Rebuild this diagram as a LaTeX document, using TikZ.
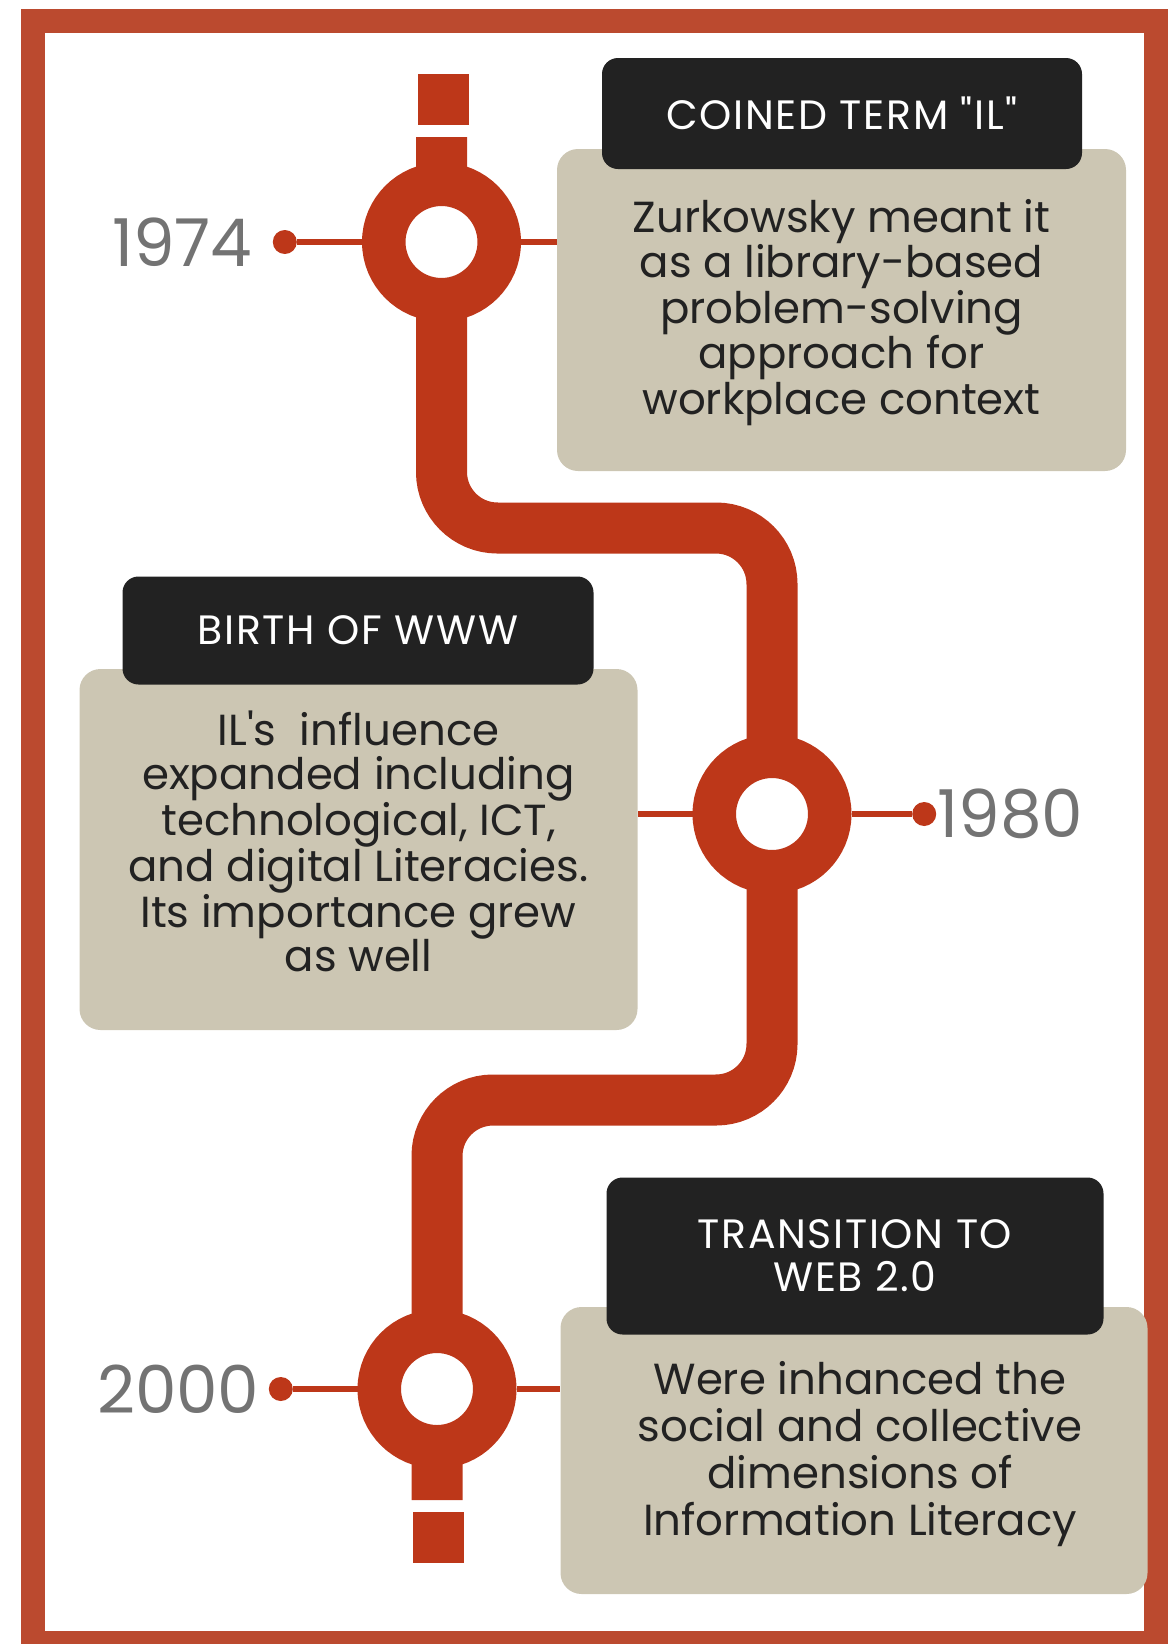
\documentclass[tikz,border=0pt]{standalone}
\usepackage{fontspec}
\setmainfont{Poppins}[Ligatures=TeXOff]
\newfontfamily\headfont{Poppins}[Ligatures=TeXOff, LetterSpace=4]
\usepackage{tikz}
\usetikzlibrary{positioning}
\definecolor{rust}{HTML}{BD3719}
\definecolor{brick}{HTML}{BB4A2F}
\definecolor{sand}{HTML}{CCC6B3}
\definecolor{ink}{HTML}{222222}
\definecolor{slate}{HTML}{737373}

\begin{document}
\begin{tikzpicture}[x=1pt, y=-1pt,
      stop/.style={circle,
      draw=rust,
      fill=white,
      line width=43.5pt,
      inner sep=0pt,
      minimum size=115.5pt},
      dot/.style={circle, fill=rust, inner sep=0pt, minimum size=24pt},
      block/.style={fill=rust, inner sep=0pt, minimum size=51pt},
      year/.style={text=slate, inner sep=0pt, font=\fontsize{66}{66}\selectfont},
      note/.style={fill=sand, rounded corners=21pt, align=center, text=ink,
      font=\fontsize{43.5}{#1}\selectfont},
      note/.default=45.5pt,
      head/.style={fill=ink, rounded corners=16pt, align=center, text=white,
      font=\headfont\fontsize{41}{43}\selectfont},
      link/.style={draw=rust, line width=6pt}]
    \useasboundingbox (0,0) rectangle (1175,1644);
    \draw [brick, line width=24pt] (33,21) rectangle (1156,1643);
    %% Track
    \coordinate (top) at (441.5,137);
    \coordinate (bend1) at (441.5,528);
    \coordinate (bend2) at (772,528);
    \coordinate (bend3) at (772,1100);
    \coordinate (bend4) at (437,1100);
    \coordinate (bottom) at (437,1500);
    \draw [rust, line width=51pt, rounded corners=56pt] (top) -- (bend1) -- (bend2) -- (bend3) -- (bend4) -- (bottom);
    \node [block] (E1) at (443.5,99.5) {};
    \node [block] (E2) at (438.5,1537.5) {};
    %% Notes
    \node [note, minimum width=569pt, minimum height=322pt] (B1) at (841.5,310)
      {\rule{0pt}{38pt}Zurkowsky meant it\\as a library-based\\problem-solving\\approach for\\workplace context};
    \node [head, minimum width=480pt, minimum height=111pt] (H1) at (842,113.5) {COINED TERM "IL"};
    \node [note=44.6pt, minimum width=558pt, minimum height=361pt] (B2) at (358.5,849.5)
      {IL's~ influence\\expanded including\\technological, ICT,\\and digital Literacies.\\Its importance grew\\as well\\[-28pt]};
    \node [head, minimum width=471pt, minimum height=108pt] (H2) at (358,630.5) {BIRTH OF WWW};
    \node [note=46.8pt, minimum width=587pt, minimum height=287pt] (B3) at (854,1450.5)
      {\hspace{12pt}\rule{0pt}{40pt}Were inhanced the\\\hspace{12pt}social and collective\\\hspace{12pt}dimensions of\\\hspace{12pt}Information Literacy};
    \node [head, minimum width=497pt, minimum height=157pt] (H3) at (855,1256) {TRANSITION TO\\WEB 2.0};
    %% Stops
    \node [stop] (C1) at (441.5,242) {};
    \node [dot, left=65pt of C1] (D1) {};
    \node [year, left=20pt of D1] (Y1) {1974};
    \path [link] (D1) -- (C1);
    \path [link] (C1) -- (C1 -| B1.west);
    \node [stop] (C2) at (772,814) {};
    \node [dot, right=60.5pt of C2] (D2) {};
    \node [year, right=1pt of D2] (Y2) {1980};
    \path [link] (C2) -- (D2);
    \path [link] (C2) -- (C2 -| B2.east);
    \node [stop] (C3) at (437,1389) {};
    \node [dot, left=64.5pt of C3] (D3) {};
    \node [year, left=9pt of D3] (Y3) {2000};
    \path [link] (D3) -- (C3);
    \path [link] (C3) -- (C3 -| B3.west);
  \end{tikzpicture}
\end{document}
